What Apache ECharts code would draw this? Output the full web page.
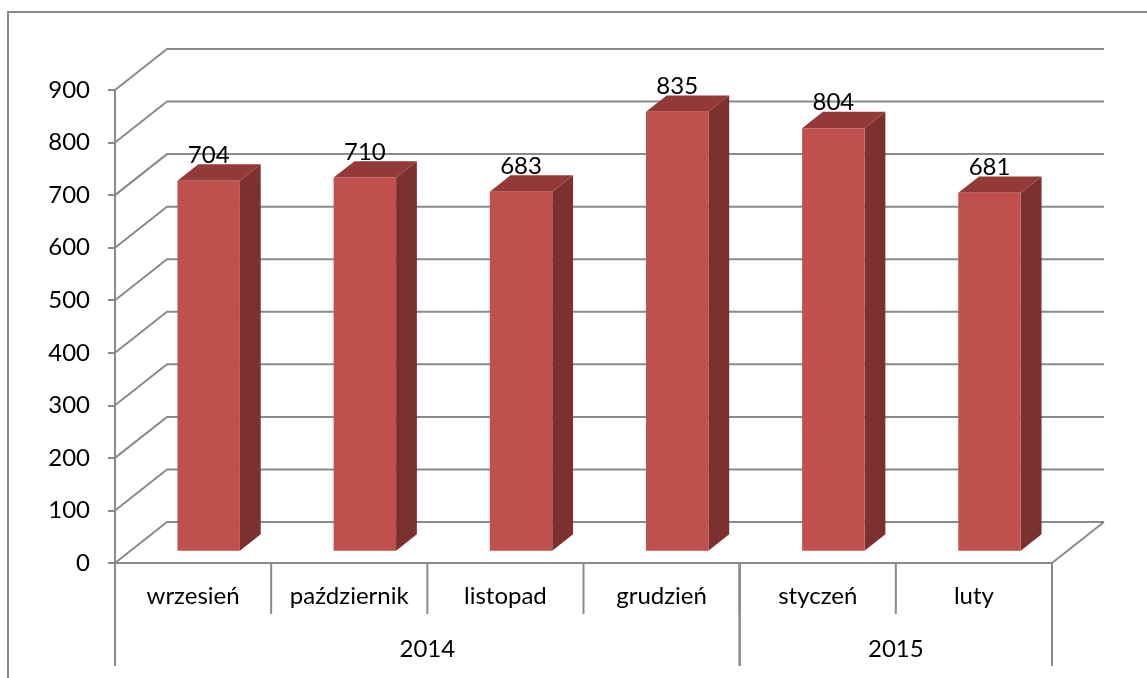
<!DOCTYPE html>
<html lang="pl">
<head>
    <meta charset="UTF-8">
    <title>2014 - 2015</title>
    <script src="https://cdn.jsdelivr.net/npm/echarts@6.0.0/dist/echarts.min.js"></script>
    <style>
        html, body { margin: 0; padding: 0; background: #fff; }
        #chart { width: 1147px; height: 678px; }
    </style>
</head>
<body>
    <div id="chart"></div>

    <script>
        // data
        const months = ['wrzesień', 'październik', 'listopad', 'grudzień', 'styczeń', 'luty'];
        const values = [704, 710, 683, 835, 804, 681];
        const years = ['2014', '2015'];
        const yearSpans = [4, 2];          // how many months fall under each year
        const yTicks = [0, 100, 200, 300, 400, 500, 600, 700, 800, 900];

        // oblique "3D" look, in pixels
        const DX = 52, DY = -41;
        const FRONT = 0.3, BACK = 0.7;
        const GRID = '#8a8a8a';
        const LW = 2;
        const FONT = 'Lato';
        const FS = 24;

        const yearData = [];
        let start = 0;
        yearSpans.forEach(n => { yearData.push([start, start + n - 1]); start += n; });

        const chart = echarts.init(document.getElementById('chart'));

        chart.setOption({
            animation: false,
            graphic: [{
                type: 'rect',
                shape: { x: 8, y: 12, width: 1200, height: 720 },
                style: { fill: 'none', stroke: GRID, lineWidth: LW },
                silent: true
            }],
            grid: { left: 115, right: 95, top: 90, bottom: 115 },
            xAxis: {
                type: 'category',
                data: months,
                axisLine: { lineStyle: { color: GRID, width: LW } },
                axisTick: { show: false },
                axisLabel: { interval: 0, margin: 21, fontSize: FS, color: '#000', fontFamily: FONT }
            },
            yAxis: {
                type: 'value',
                min: 0, max: 900, interval: 100,
                axisLine: { show: true, lineStyle: { color: GRID, width: LW } },
                axisTick: { show: true, length: 7, lineStyle: { color: GRID, width: LW } },
                splitLine: { show: false },
                axisLabel: { margin: 25, fontSize: FS, color: '#000', fontFamily: FONT }
            },
            series: [
                {
                    // walls: diagonal on the left wall + line on the back wall
                    type: 'custom',
                    silent: true,
                    clip: false,
                    z: 1,
                    data: yTicks.map(v => [0, v]),
                    renderItem: function (params, api) {
                        const cs = params.coordSys;
                        const y = api.coord([0, api.value(1)])[1];
                        const pts = [[cs.x, y], [cs.x + DX, y + DY], [cs.x + cs.width + DX, y + DY]];
                        const children = [{
                            type: 'polyline',
                            shape: { points: pts },
                            style: { stroke: GRID, lineWidth: LW, fill: 'none' }
                        }];
                        if (api.value(1) === 0) {
                            children.push({
                                type: 'line',
                                shape: { x1: cs.x + cs.width, y1: y, x2: cs.x + cs.width + DX, y2: y + DY },
                                style: { stroke: GRID, lineWidth: LW }
                            });
                        }
                        return { type: 'group', children: children };
                    }
                },
                {
                    // 3D bars
                    type: 'custom',
                    silent: true,
                    clip: false,
                    z: 3,
                    data: values.map((v, i) => [i, v]),
                    renderItem: function (params, api) {
                        const i = api.value(0), v = api.value(1);
                        const base = api.coord([i, 0]);
                        const top = api.coord([i, v]);
                        const bw = api.size([1, 0])[0] * 0.4;
                        const x0 = base[0] - bw / 2 + FRONT * DX;
                        const x1 = x0 + bw;
                        const yb = base[1] + FRONT * DY;
                        const yt = top[1] + FRONT * DY;
                        const ddx = (BACK - FRONT) * DX, ddy = (BACK - FRONT) * DY;
                        return {
                            type: 'group',
                            children: [
                                {
                                    type: 'polygon',
                                    shape: { points: [[x1, yb], [x1, yt], [x1 + ddx, yt + ddy], [x1 + ddx, yb + ddy]] },
                                    style: { fill: '#7c302f' }
                                },
                                {
                                    type: 'polygon',
                                    shape: { points: [[x0, yt], [x1, yt], [x1 + ddx, yt + ddy], [x0 + ddx, yt + ddy]] },
                                    style: { fill: '#933a38' }
                                },
                                {
                                    type: 'rect',
                                    shape: { x: x0, y: yt, width: bw, height: yb - yt },
                                    style: { fill: '#c0504d' }
                                },
                                {
                                    type: 'text',
                                    x: x0 + bw / 2,
                                    y: yt + ddy + 3,
                                    style: {
                                        text: String(v),
                                        fill: '#000',
                                        fontSize: FS,
                                        fontFamily: FONT,
                                        align: 'center',
                                        verticalAlign: 'bottom'
                                    }
                                }
                            ]
                        };
                    }
                },
                {
                    // short dividers between the months
                    type: 'custom',
                    silent: true,
                    clip: false,
                    z: 2,
                    data: months.map((m, i) => [i, 0]),
                    renderItem: function (params, api) {
                        const band = api.size([1, 0])[0];
                        const p = api.coord([api.value(0), 0]);
                        const x = p[0] - band / 2;
                        return {
                            type: 'line',
                            shape: { x1: x, y1: p[1], x2: x, y2: p[1] + 51 },
                            style: { stroke: GRID, lineWidth: LW }
                        };
                    }
                },
                {
                    // year groups under the month labels
                    type: 'custom',
                    silent: true,
                    clip: false,
                    z: 2,
                    data: yearData,
                    renderItem: function (params, api) {
                        const band = api.size([1, 0])[0];
                        const left = api.coord([api.value(0), 0]);
                        const right = api.coord([api.value(1), 0]);
                        const xl = left[0] - band / 2, xr = right[0] + band / 2;
                        const y0 = left[1];
                        return {
                            type: 'group',
                            children: [
                                {
                                    type: 'line',
                                    shape: { x1: xl, y1: y0, x2: xl, y2: y0 + 103 },
                                    style: { stroke: GRID, lineWidth: LW }
                                },
                                {
                                    type: 'line',
                                    shape: { x1: xr, y1: y0, x2: xr, y2: y0 + 103 },
                                    style: { stroke: GRID, lineWidth: LW }
                                },
                                {
                                    type: 'text',
                                    x: (xl + xr) / 2,
                                    y: y0 + 86,
                                    style: {
                                        text: years[params.dataIndex],
                                        fill: '#000',
                                        fontSize: FS,
                                        fontFamily: FONT,
                                        align: 'center',
                                        verticalAlign: 'middle'
                                    }
                                }
                            ]
                        };
                    }
                }
            ]
        });
    </script>
</body>
</html>
